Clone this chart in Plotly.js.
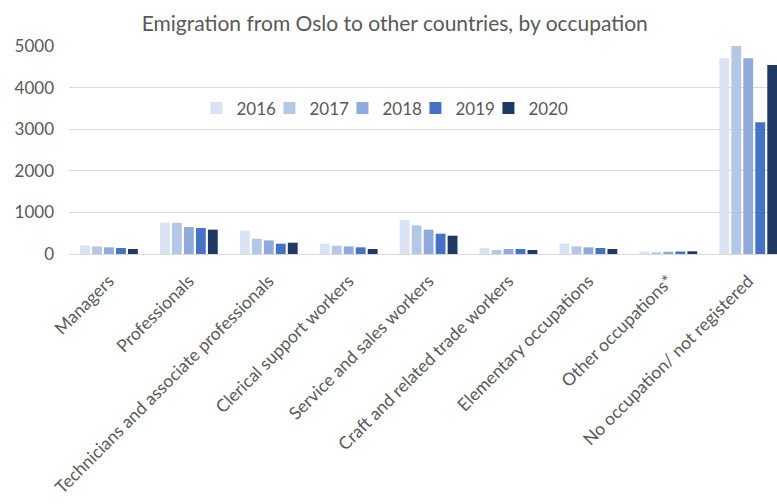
<!DOCTYPE html>
<html>
<head>
<meta charset="utf-8">
<script src="https://cdn.plot.ly/plotly-3.0.1.min.js"></script>
<style>html,body{margin:0;padding:0;background:#fff;}#chart{width:777px;height:504px;}</style>
</head>
<body>
<div id="chart"></div>
<script>
const categories = ["Managers", "Professionals", "Technicians and associate professionals", "Clerical support workers", "Service and sales workers", "Craft and related trade workers", "Elementary occupations", "Other occupations*", "No occupation/ not registered"];
const years = ["2016", "2017", "2018", "2019", "2020"];
const v2016 = [205, 752, 560, 248, 817, 145, 248, 60, 4705];
const v2017 = [183, 752, 368, 200, 688, 96, 183, 40, 5030];
const v2018 = [160, 650, 327, 183, 585, 120, 160, 55, 4705];
const v2019 = [145, 625, 248, 160, 488, 120, 145, 60, 3166];
const v2020 = [120, 585, 272, 120, 440, 96, 120, 65, 4543];
const seriesValues = [v2016, v2017, v2018, v2019, v2020];
const colors = ["#DAE3F3", "#B4C7E7", "#8FAADC", "#4472C4", "#203864"];

const FONT = "Lato, 'Liberation Sans', sans-serif";
const data = years.map((y, i) => ({
  type: "bar",
  name: y,
  x: categories,
  y: seriesValues[i],
  marker: {color: colors[i], line: {width: 0}},
  hoverinfo: "x+y+name"
}));
// spacer legend entry so the last label is not clipped
data.push({type: "scatter", mode: "markers", x: [null], y: [null], name: " ",
  marker: {color: "rgba(0,0,0,0)", size: 1}, hoverinfo: "skip"});

const layout = {
  width: 777, height: 504,
  margin: {l: 69, r: 0, t: 46, b: 250},
  paper_bgcolor: "#fff", plot_bgcolor: "#fff",
  font: {family: FONT, color: "#595959", size: 17},
  title: {text: "Emigration from Oslo to other countries, by occupation", font: {size: 21, color: "#595959", family: FONT}, x: 0.508, xanchor: "center", y: 0.954, yanchor: "middle", yref: "container"},
  barmode: "group",
  bargap: 0.25,
  bargroupgap: 0.18,
  xaxis: {
    type: "category",
    range: [-0.5, 8.36],
    tickangle: -45,
    tickfont: {size: 17.5, color: "#595959", family: FONT},
    showgrid: false,
    showline: true, linecolor: "#d9d9d9", linewidth: 1,
    ticks: "", ticklabelstandoff: 9, automargin: false
  },
  yaxis: {
    range: [0, 5000],
    tickvals: [0, 1000, 2000, 3000, 4000, 5000],
    tickfont: {size: 17, color: "#595959", family: FONT},
    showgrid: true, gridcolor: "#d9d9d9", gridwidth: 1,
    zeroline: false, showline: false,
    ticks: "", ticklabelstandoff: 14, automargin: false
  },
  showlegend: true,
  legend: {
    orientation: "h",
    x: 0.18, xanchor: "left",
    y: 0.70, yanchor: "middle",
    font: {size: 17, color: "#595959", family: FONT},
    bgcolor: "rgba(0,0,0,0)",
    entrywidth: 28, entrywidthmode: "pixels",
    itemwidth: 30,
    traceorder: "normal"
  }
};

Plotly.newPlot("chart", data, layout, {displayModeBar: false, staticPlot: true});
</script>
</body>
</html>
